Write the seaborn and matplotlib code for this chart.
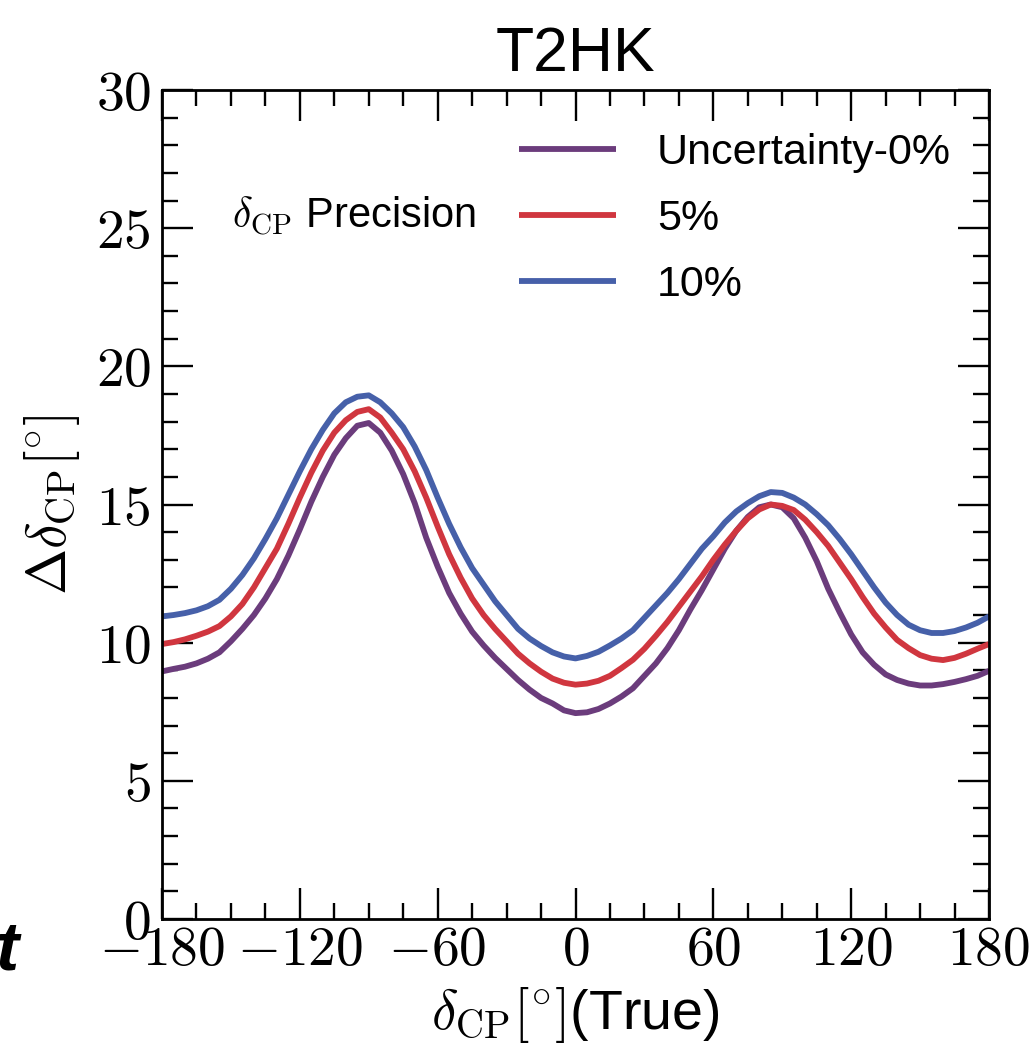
import numpy as np
import pandas as pd
import matplotlib
matplotlib.use("Agg")
import matplotlib.pyplot as plt
from matplotlib.ticker import MultipleLocator, FuncFormatter
import seaborn as sns

# ---- data ----
delta_true = list(range(-180, 181, 5))

unc_0 = [8.96, 9.05, 9.13, 9.25, 9.42, 9.65, 10.05, 10.5, 11.0, 11.6, 12.3, 13.15, 14.1, 15.1,
         16.0, 16.8, 17.4, 17.85, 17.95, 17.6, 16.95, 16.1, 15.05, 13.8, 12.75, 11.8, 11.05, 10.4,
         9.9, 9.45, 9.05, 8.65, 8.3, 8.0, 7.8, 7.55, 7.45, 7.48, 7.6, 7.8, 8.05, 8.35, 8.8, 9.25,
         9.8, 10.45, 11.2, 11.9, 12.65, 13.4, 14.05, 14.55, 14.9, 15.0, 14.9, 14.5, 13.8, 12.95,
         11.95, 11.1, 10.3, 9.65, 9.2, 8.85, 8.65, 8.52, 8.45, 8.45, 8.5, 8.58, 8.68, 8.8, 8.98]

unc_5 = [9.95, 10.02, 10.12, 10.25, 10.4, 10.6, 10.95, 11.4, 12.0, 12.7, 13.4, 14.3, 15.25, 16.15,
         16.95, 17.6, 18.05, 18.35, 18.45, 18.15, 17.6, 17.0, 16.2, 15.25, 14.2, 13.2, 12.35, 11.6,
         11.0, 10.5, 10.05, 9.6, 9.25, 8.95, 8.7, 8.55, 8.48, 8.52, 8.62, 8.8, 9.08, 9.38, 9.78, 10.25,
         10.75, 11.3, 11.85, 12.4, 13.0, 13.55, 14.05, 14.5, 14.82, 15.0, 14.95, 14.8, 14.45, 14.0,
         13.5, 12.9, 12.3, 11.65, 11.05, 10.55, 10.1, 9.8, 9.55, 9.42, 9.37, 9.45, 9.6, 9.78, 9.95]

unc_10 = [10.95, 11.0, 11.07, 11.17, 11.32, 11.55, 11.95, 12.45, 13.05, 13.75, 14.5, 15.35, 16.2, 17.0,
          17.7, 18.3, 18.7, 18.9, 18.95, 18.7, 18.3, 17.8, 17.1, 16.25, 15.25, 14.3, 13.45, 12.7,
          12.1, 11.5, 11.0, 10.5, 10.15, 9.88, 9.65, 9.5, 9.43, 9.52, 9.67, 9.9, 10.15, 10.45, 10.9, 11.35,
          11.8, 12.3, 12.85, 13.4, 13.85, 14.35, 14.75, 15.05, 15.3, 15.45, 15.42, 15.25, 15.0, 14.65,
          14.25, 13.75, 13.2, 12.6, 12.0, 11.45, 11.0, 10.65, 10.45, 10.35, 10.35, 10.42, 10.55, 10.72, 10.95]

series_labels = ["Uncertainty-0%", "5%", "10%"]
series_colors = ["#6B3C7C", "#D0363F", "#4660A9"]

x_ticks = [-180, -120, -60, 0, 60, 120, 180]
y_ticks = [0, 5, 10, 15, 20, 25, 30]

df = pd.concat([
    pd.DataFrame({"delta": delta_true, "prec": vals, "series": lab})
    for vals, lab in zip([unc_0, unc_5, unc_10], series_labels)
], ignore_index=True)

# ---- style ----
sns.set_theme(style="ticks")
plt.rcParams["font.family"] = ["Liberation Sans", "DejaVu Sans"]
plt.rcParams["mathtext.fontset"] = "cm"
plt.rcParams["axes.linewidth"] = 2.0
for k in ["text.color", "axes.labelcolor", "xtick.color", "ytick.color", "axes.edgecolor"]:
    plt.rcParams[k] = "black"

fig = plt.figure(figsize=(10.35, 10.6), dpi=100)
ax = fig.add_axes([162 / 1035, 1 - 919 / 1060, (989 - 162) / 1035, (919 - 90) / 1060])

sns.lineplot(data=df, x="delta", y="prec", hue="series", palette=series_colors,
             hue_order=series_labels, linewidth=4.2, sort=False, estimator=None,
             legend=False, ax=ax)
for ln in ax.get_lines():
    ln.set_solid_joinstyle("round")
    ln.set_solid_capstyle("butt")

ax.set_xlim(-180, 180)
ax.set_ylim(0, 30)
ax.set_xticks(x_ticks)
ax.set_yticks(y_ticks)
ax.xaxis.set_minor_locator(MultipleLocator(15))
ax.yaxis.set_minor_locator(MultipleLocator(1))
fmt = FuncFormatter(lambda v, p: "$%d$" % v)
ax.xaxis.set_major_formatter(fmt)
ax.yaxis.set_major_formatter(fmt)

ax.tick_params(which="both", direction="in", top=True, right=True, labelsize=40)
ax.tick_params(which="major", length=22, width=1.7)
ax.tick_params(which="minor", length=11.5, width=1.7)
ax.tick_params(axis="x", which="major", pad=4)
ax.tick_params(axis="y", which="major", pad=8)

for s in ax.spines.values():
    s.set_linewidth(2.0)
    s.set_color("black")

ax.set_xlabel(r"$\delta_{\rm CP}[^{\circ}]$(True)", fontsize=40, labelpad=6)
ax.set_ylabel(r"$\Delta\delta_{\rm CP}[^{\circ}]$", fontsize=40, labelpad=10)
ax.set_title("T2HK", fontsize=45, pad=14)

handles = ax.get_lines()[:3]
leg = ax.legend(handles, series_labels, loc="upper left",
                bbox_to_anchor=((519 - 162) / 827, (919 - 133) / 829),
                frameon=False, fontsize=31, handlelength=2.25, handletextpad=0.95,
                labelspacing=0.6, borderpad=0, borderaxespad=0)
for line in leg.get_lines():
    line.set_linewidth(4.2)

ax.text((232 - 162) / 827, (919 - 216) / 829, r"$\delta_{\rm CP}$ Precision",
        transform=ax.transAxes, fontsize=30, ha="left", va="center")

fig.text(18 / 1035, 90 / 1060, "t", fontsize=50, fontweight="bold", fontstyle="italic",
         ha="right", va="baseline")

fig.savefig("out.png", dpi=100)
